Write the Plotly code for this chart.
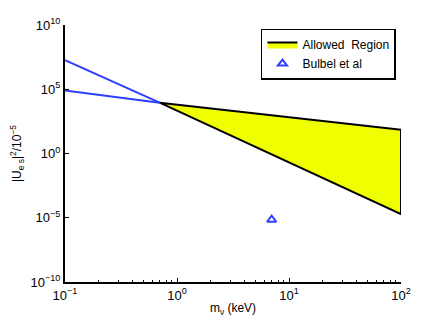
import plotly.graph_objects as go

# Allowed region polygon (m_nu in keV, |U_es|^2 / 1e-5)
region_m = [0.7, 100, 100, 0.7]
region_u = [9e3, 69, 1.9e-5, 9e3]

# Blue bound lines at low mass
upper_m = [0.1, 0.7]
upper_u = [1.8e7, 9e3]
lower_m = [0.1, 0.7]
lower_u = [8e4, 9e3]

# Bulbel et al point
bulbel_m = [7.0]
bulbel_u = [7e-6]

x_tickvals = [0.1, 1, 10, 100]
x_ticktext = ["10<sup>−1</sup>", "10<sup>0</sup>", "10<sup>1</sup>", "10<sup>2</sup>"]
y_tickvals = [1e-10, 1e-5, 1, 1e5, 1e10]
y_ticktext = ["10<sup>−10</sup>", "10<sup>−5</sup>", "10<sup>0</sup>", "10<sup>5</sup>", "10<sup>10</sup>"]

blue = "#2f3fff"

fig = go.Figure()
fig.add_trace(go.Scatter(
    x=upper_m, y=upper_u, mode="lines",
    line={"color": blue, "width": 2}, showlegend=False,
))
fig.add_trace(go.Scatter(
    x=lower_m, y=lower_u, mode="lines",
    line={"color": blue, "width": 2}, showlegend=False,
))
fig.add_trace(go.Scatter(
    x=region_m, y=region_u, mode="lines", fill="toself",
    fillcolor="#f0ff00", line={"color": "black", "width": 2},
    name="Allowed\u00a0\u00a0Region",
))
fig.add_trace(go.Scatter(
    x=bulbel_m, y=bulbel_u, mode="markers",
    marker={"symbol": "triangle-up-open", "color": blue, "size": 8,
            "line": {"width": 2, "color": blue}},
    name="Bulbel et al",
))

minor_vals = [k * 10.0 ** e for e in (-1, 0, 1) for k in range(2, 10)]

# page body adds an 8px offset, so the figure is sized to fit inside it
fig.update_layout(
    width=435, height=320,
    paper_bgcolor="white", plot_bgcolor="white",
    margin={"l": 57, "r": 42, "t": 17, "b": 46, "autoexpand": False},
    font={"family": "Liberation Sans, Arial, sans-serif", "size": 13, "color": "black"},
    legend={
        "x": 0.985, "y": 0.986, "xanchor": "right", "yanchor": "top",
        "bordercolor": "black", "borderwidth": 1.5, "bgcolor": "white",
        "font": {"size": 12}, "tracegroupgap": 0,
    },
    xaxis={
        "type": "log", "range": [-1, 2], "automargin": False,
        "tickvals": x_tickvals, "ticktext": x_ticktext,
        "ticks": "inside", "ticklen": 4, "tickcolor": "black",
        "showline": True, "linecolor": "black", "linewidth": 2,
        "showgrid": False, "zeroline": False,
        "minor": {"tickvals": minor_vals, "ticks": "inside", "ticklen": 2,
                  "tickcolor": "black", "showgrid": False},
        "title": {"text": "m<sub>ν</sub> (keV)", "standoff": 2, "font": {"size": 12}},
    },
    yaxis={
        "type": "log", "range": [-10, 10], "automargin": False,
        "tickvals": y_tickvals, "ticktext": y_ticktext,
        "ticks": "inside", "ticklen": 4, "tickcolor": "black",
        "showline": True, "linecolor": "black", "linewidth": 2,
        "showgrid": False, "zeroline": False,
        "title": {"text": "|U<sub>e s</sub>|<sup>2</sup>/10<sup>−5</sup>", "standoff": 10,
                  "font": {"size": 12}},
    },
)

fig.write_html("out.html")
